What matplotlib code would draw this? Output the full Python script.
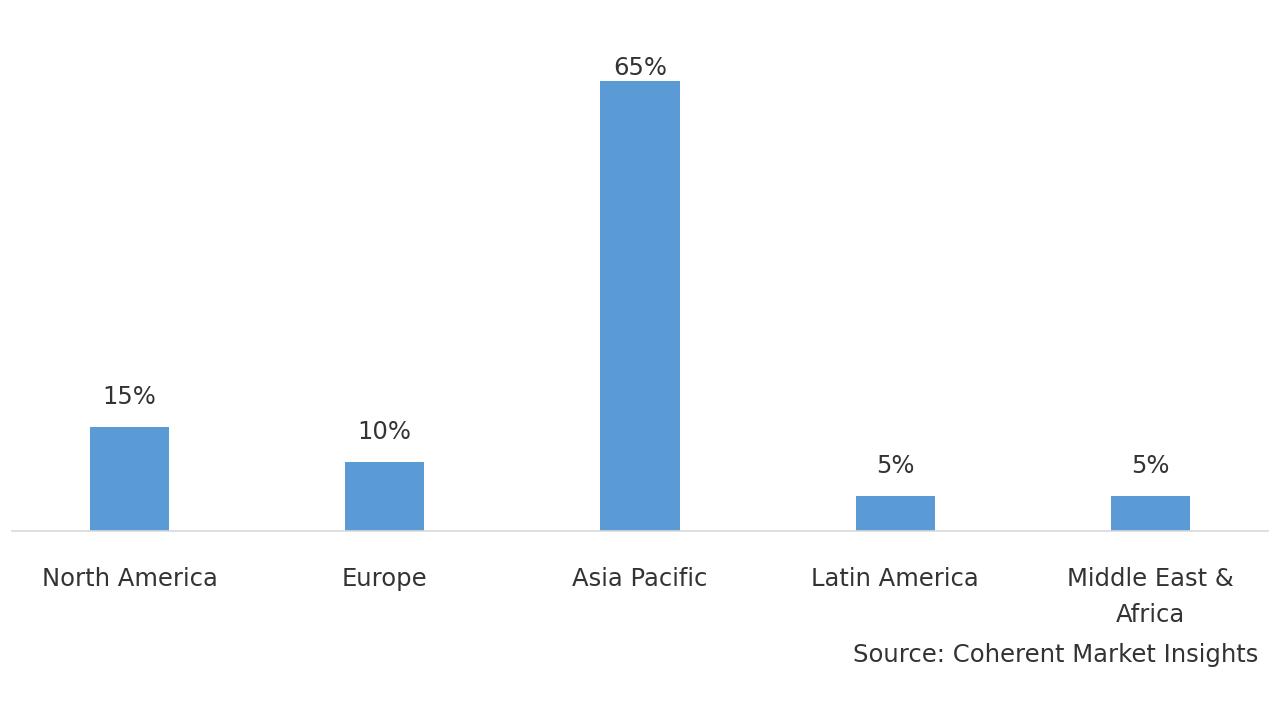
import matplotlib.pyplot as plt

regions = ["North America", "Europe", "Asia Pacific", "Latin America", "Middle East &\nAfrica"]
shares = [15, 10, 65, 5, 5]
labels = ["15%", "10%", "65%", "5%", "5%"]

plt.rcParams['font.family'] = ['DejaVu Sans']
fs = 17.5

fig = plt.figure(figsize=(12.8, 7.2), dpi=100)
ax = fig.add_axes([0.0094, 0.2625, 0.9906 - 0.0094, 0.673])

x = range(len(regions))
bars = ax.bar(x, shares, width=0.31, color="#5B9BD5")
for b, t in zip(bars, labels):
    # label sits above the bar, but is held inside the plot area at the top
    ty = min(b.get_height() + 2.6, 65.1)
    ax.text(b.get_x() + b.get_width() / 2, ty, t,
            ha="center", va="bottom", fontsize=fs, color="#333333")

ax.set_xlim(-0.46, 4.46)
ax.set_ylim(0, 70)
ax.set_xticks(list(x))
ax.set_xticklabels(regions, fontsize=fs, color="#333333", linespacing=1.65)
ax.tick_params(axis="x", length=0, pad=26)
ax.set_yticks([])
for s in ["top", "right", "left"]:
    ax.spines[s].set_visible(False)
ax.spines["bottom"].set_color("#D9D9D9")
ax.spines["bottom"].set_linewidth(1.2)

fig.text(0.983, 0.09, "Source: Coherent Market Insights", ha="right", va="center",
         fontsize=fs, color="#333333")

fig.savefig("out.png")
